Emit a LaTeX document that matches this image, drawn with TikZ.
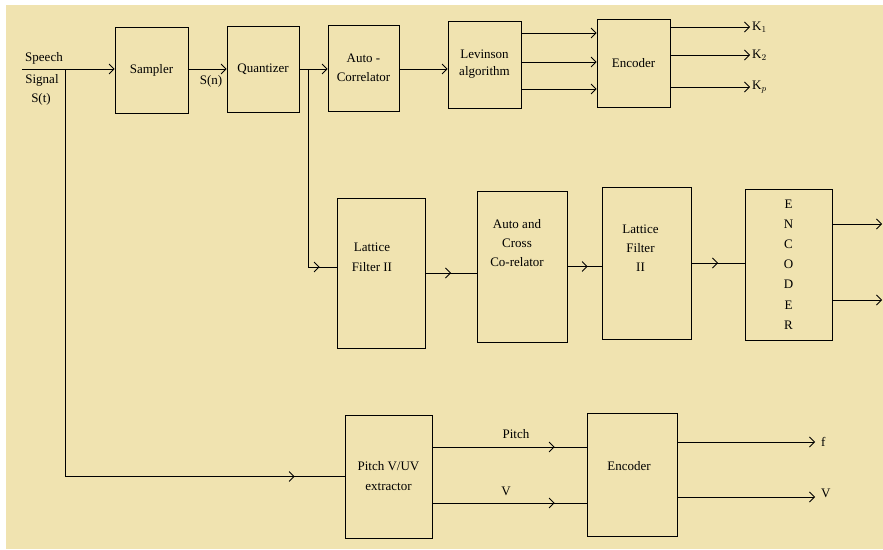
\documentclass[tikz,border=0pt]{standalone}
\usepackage{fontspec}
\setmainfont{Liberation Serif}
\usetikzlibrary{arrows.meta,decorations.markings}
\definecolor{cpaper}{RGB}{240,227,176}

\tikzset{
  blk/.style={draw=black, line width=0.8pt, inner sep=0pt, align=center},
  wire/.style={draw=black, line width=0.8pt},
  sig/.style={wire, -{Straight Barb[length=5pt,width=10pt]}},
  arrowat/.style={wire, postaction={decorate},
    decoration={markings, mark=at position #1 with {\arrow{Straight Barb[length=5pt,width=10pt]}}}},
  lbl/.style={inner sep=0pt, align=center},
}

\begin{document}
\begin{tikzpicture}[x=1pt, y=-1pt, font=\fontsize{13}{19}\selectfont]
  \useasboundingbox (0,0) rectangle (883,549);
  \fill[white] (0,0) rectangle (883,549);
  \fill[cpaper] (6,5) rectangle (883,549);

  % top row
  \node[blk, minimum width=73pt, minimum height=86pt] (sampler) at (151.5,70) {Sampler};
  \node[blk, minimum width=72pt, minimum height=86pt] (quant) at (263,69) {Quantizer};
  \node[blk, minimum width=71pt, minimum height=86pt] (acorr) at (363.5,68) {Auto -\\Correlator};
  \node[blk, minimum width=73pt, minimum height=87pt, font=\fontsize{13}{17}\selectfont] (levin) at (484.5,64.5) {Levinson\\algorithm};
  \node[blk, minimum width=73pt, minimum height=88pt] (enc1) at (633.5,63) {Encoder};

  % middle row
  \node[blk, minimum width=88pt, minimum height=150pt,
    label={[lbl, yshift=16pt, xshift=-9pt, font=\fontsize{13}{20}\selectfont]center:Lattice\\Filter II}] (lat1) at (381,273) {};
  \node[blk, minimum width=90pt, minimum height=151pt,
    label={[lbl, yshift=23pt, xshift=-5pt]center:Auto and\\Cross\\Co-relator}] (acc) at (522,266.5) {};
  \node[blk, minimum width=89pt, minimum height=152pt,
    label={[lbl, yshift=15pt, xshift=-6pt]center:Lattice\\Filter\\II}] (lat2) at (646.5,263) {};
  \node[blk, minimum width=87pt, minimum height=151pt, font=\fontsize{13}{20.2}\selectfont] (enc2) at (788.5,264.5) {E\\N\\C\\O\\D\\E\\R};

  % bottom row
  \node[blk, minimum width=87pt, minimum height=123pt, font=\fontsize{13}{20}\selectfont] (pitch) at (388.5,476.5) {Pitch V/UV\\extractor};
  \node[blk, minimum width=90pt, minimum height=123pt,
    label={[lbl, yshift=8pt, xshift=-3pt]center:Encoder}] (enc3) at (632,474.5) {};

  % input
  \coordinate (in) at (22,69);
  \coordinate (tap) at (65,69);
  \coordinate (br) at (308,69);
  \node[lbl] (speech) at (44,58) {Speech};
  \node[lbl] (signal) at (42,80) {Signal};
  \node[lbl] (st) at (41,99) {S(t)};
  \draw[sig] (in) -- (sampler.west |- in);
  \draw[arrowat=-50pt] (tap) |- (pitch.west);

  % top chain
  \draw[sig] (sampler.east |- in) -- (quant.west |- in);
  \node[lbl] (sn) at (211,81) {S(n)};
  \draw[sig] (quant.east |- in) -- (acorr.west |- in);
  \draw[arrowat=-17pt] (br) |- ([yshift=6pt]lat1.west);
  \draw[sig] (acorr.east |- in) -- (levin.west |- in);
  \foreach \dy in {31.5,2.5,-24.5}
    \draw[sig] ([yshift=\dy pt]levin.east) -- ([yshift=\dy pt]levin.east -| enc1.west);
  \coordinate (k1) at (750,27);
  \coordinate (k2) at (750,55);
  \coordinate (k3) at (750,87);
  \foreach \k/\s in {k1/1,k2/2,k3/p} {
    \draw[sig] (enc1.east |- \k) -- (\k);
    \node[lbl, anchor=west] (\k lab) at ([xshift=2pt]\k) {K$_\s$};
  }

  % middle chain
  \draw[arrowat=0.5] (lat1.east) -- (lat1.east -| acc.west);
  \draw[arrowat=-14pt] (acc.east) -- (acc.east -| lat2.west);
  \draw[arrowat=0.5] (lat2.east) -- (lat2.east -| enc2.west);
  \coordinate (e1) at (882,224);
  \coordinate (e2) at (882,300);
  \draw[sig] (enc2.east |- e1) -- (e1);
  \draw[sig] (enc2.east |- e2) -- (e2);

  % bottom chain
  \draw[arrowat=-32pt] ([yshift=29.5pt]pitch.east) -- ([yshift=29.5pt]pitch.east -| enc3.west);
  \draw[arrowat=-32pt] ([yshift=-26.5pt]pitch.east) -- ([yshift=-26.5pt]pitch.east -| enc3.west);
  \node[lbl] (pitchlab) at (516,434) {Pitch};
  \node[lbl] (vlab) at (506,491) {V};
  \coordinate (f) at (815,442);
  \coordinate (v) at (815,497);
  \draw[sig] (enc3.east |- f) -- (f);
  \draw[sig] (enc3.east |- v) -- (v);
  \node[lbl, anchor=west] (flab) at ([xshift=6pt]f) {f};
  \node[lbl, anchor=west] (vout) at ([xshift=6pt,yshift=4pt]v) {V};
\end{tikzpicture}
\end{document}
